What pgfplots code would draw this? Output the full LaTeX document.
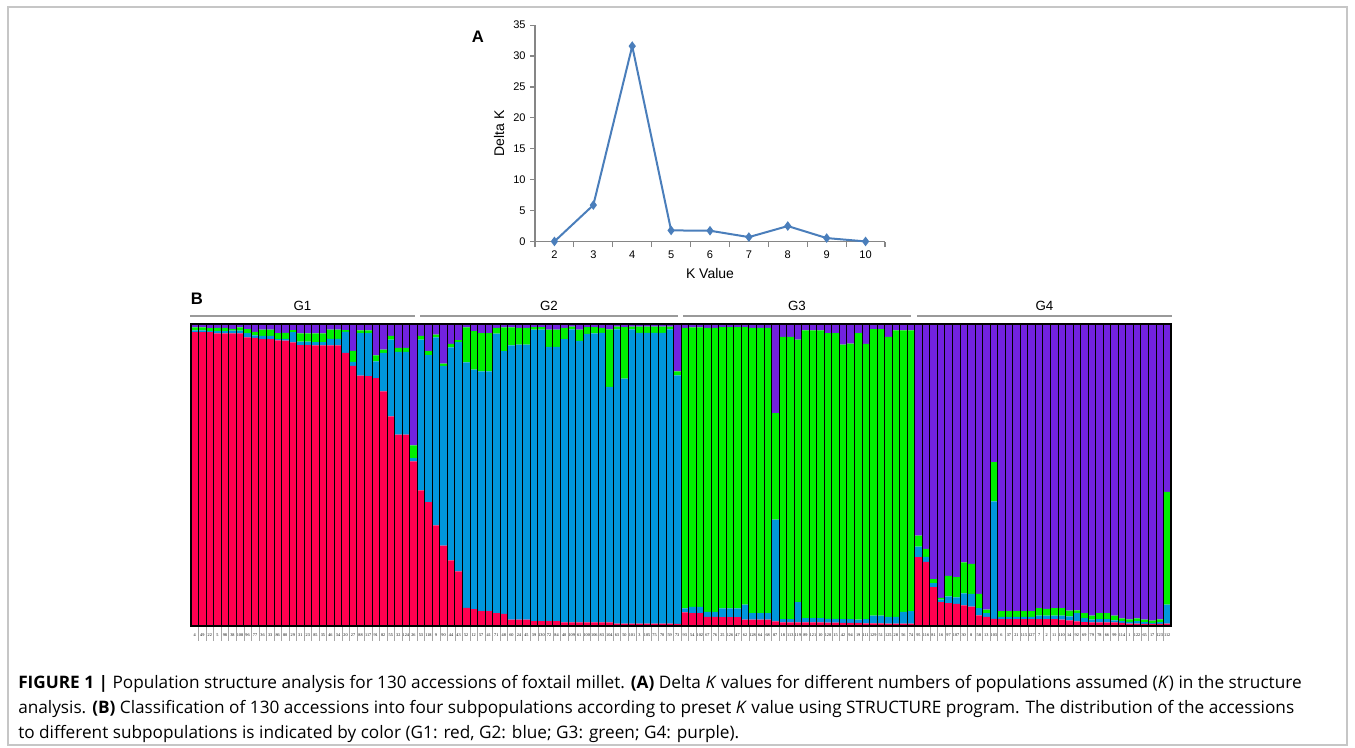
\documentclass[border=0pt]{standalone}
\usepackage{fontspec}
\setmainfont{Liberation Sans}
\newfontfamily\capfont{Open Sans}
\newfontfamily\labfont{Liberation Serif}
\usepackage{pgfplots}
\usepackage{pgfplotstable}
\pgfplotsset{compat=1.18}

\definecolor{strred}{HTML}{FF0050}
\definecolor{strblue}{HTML}{0096DC}
\definecolor{strgreen}{HTML}{00F000}
\definecolor{strpurple}{HTML}{7222DF}
\definecolor{dkline}{HTML}{4A7EBB}
\definecolor{axgray}{HTML}{868686}

% delta K for K = 2..10
\pgfplotstableread{
k dk
2 0.05
3 5.92
4 31.6
5 1.83
6 1.78
7 0.75
8 2.53
9 0.59
10 0.05
}\deltak

% membership per accession: red (G1), blue (G2), green (G3), purple (G4)
\pgfplotstableread{
r b g p lab
0.973 0.006 0.010 0.011 4
0.973 0.006 0.010 0.011 49
0.973 0.004 0.009 0.014 22
0.969 0.007 0.011 0.013 5
0.969 0.007 0.011 0.013 98
0.969 0.009 0.006 0.016 38
0.969 0.009 0.011 0.011 108
0.956 0.014 0.013 0.017 96
0.954 0.008 0.012 0.026 77
0.950 0.011 0.020 0.019 36
0.950 0.011 0.020 0.019 33
0.946 0.004 0.020 0.030 86
0.945 0.006 0.020 0.029 80
0.939 0.034 0.007 0.020 29
0.930 0.012 0.027 0.031 31
0.930 0.012 0.027 0.031 23
0.929 0.011 0.029 0.031 85
0.929 0.011 0.029 0.031 35
0.929 0.022 0.030 0.019 46
0.929 0.022 0.030 0.019 34
0.904 0.070 0.006 0.020 20
0.861 0.014 0.036 0.089 27
0.829 0.141 0.009 0.021 88
0.827 0.143 0.009 0.021 117
0.821 0.055 0.020 0.104 91
0.777 0.127 0.011 0.085 82
0.694 0.254 0.013 0.039 55
0.634 0.274 0.013 0.079 32
0.634 0.274 0.013 0.079 124
0.545 0.011 0.042 0.402 26
0.449 0.499 0.013 0.039 53
0.410 0.487 0.013 0.090 118
0.333 0.623 0.009 0.035 9
0.266 0.595 0.008 0.131 90
0.217 0.706 0.011 0.066 44
0.181 0.759 0.007 0.053 43
0.060 0.813 0.116 0.011 52
0.056 0.793 0.127 0.024 12
0.049 0.794 0.127 0.030 57
0.049 0.794 0.127 0.030 41
0.043 0.925 0.019 0.013 71
0.040 0.870 0.079 0.011 48
0.021 0.908 0.060 0.011 60
0.021 0.911 0.055 0.013 24
0.021 0.911 0.055 0.013 45
0.016 0.965 0.009 0.010 39
0.016 0.965 0.009 0.010 130
0.016 0.908 0.057 0.019 72
0.016 0.908 0.057 0.019 84
0.012 0.938 0.037 0.013 40
0.012 0.970 0.009 0.009 109
0.012 0.932 0.037 0.019 61
0.012 0.955 0.023 0.010 100
0.012 0.957 0.021 0.010 106
0.012 0.959 0.016 0.013 83
0.012 0.780 0.190 0.018 104
0.008 0.974 0.009 0.009 63
0.008 0.811 0.171 0.010 50
0.008 0.974 0.009 0.009 101
0.008 0.963 0.020 0.009 3
0.008 0.963 0.020 0.009 105
0.008 0.963 0.020 0.009 75
0.008 0.963 0.020 0.009 70
0.008 0.974 0.009 0.009 59
0.007 0.823 0.013 0.157 73
0.045 0.013 0.929 0.013 93
0.043 0.020 0.926 0.011 54
0.043 0.020 0.926 0.011 102
0.030 0.017 0.940 0.013 67
0.030 0.017 0.940 0.013 76
0.029 0.029 0.932 0.010 25
0.029 0.029 0.932 0.010 126
0.029 0.029 0.932 0.010 47
0.021 0.050 0.919 0.010 62
0.021 0.022 0.944 0.013 128
0.021 0.022 0.944 0.013 64
0.021 0.022 0.944 0.013 68
0.015 0.337 0.353 0.295 87
0.012 0.011 0.934 0.043 18
0.012 0.011 0.934 0.043 113
0.012 0.067 0.869 0.052 119
0.012 0.014 0.953 0.021 89
0.012 0.014 0.953 0.021 121
0.012 0.014 0.953 0.021 10
0.011 0.013 0.946 0.030 120
0.011 0.013 0.946 0.030 15
0.010 0.013 0.909 0.068 42
0.010 0.013 0.912 0.065 94
0.010 0.011 0.949 0.030 19
0.009 0.014 0.911 0.066 111
0.009 0.025 0.949 0.017 129
0.009 0.025 0.949 0.017 51
0.008 0.022 0.927 0.043 125
0.008 0.022 0.949 0.021 28
0.008 0.039 0.932 0.021 56
0.008 0.041 0.930 0.021 74
0.228 0.035 0.036 0.701 95
0.212 0.017 0.026 0.745 116
0.129 0.013 0.013 0.845 81
0.079 0.008 0.006 0.907 16
0.076 0.022 0.068 0.834 97
0.073 0.022 0.067 0.838 107
0.068 0.040 0.103 0.789 30
0.064 0.042 0.100 0.794 8
0.035 0.024 0.047 0.894 58
0.030 0.013 0.011 0.946 13
0.024 0.389 0.130 0.457 103
0.023 0.007 0.019 0.951 6
0.023 0.007 0.019 0.951 37
0.023 0.007 0.019 0.951 21
0.023 0.007 0.019 0.951 115
0.023 0.007 0.019 0.951 127
0.023 0.011 0.025 0.941 7
0.023 0.011 0.023 0.943 2
0.023 0.011 0.025 0.941 11
0.021 0.013 0.025 0.941 110
0.019 0.013 0.019 0.949 14
0.015 0.028 0.009 0.948 92
0.013 0.013 0.017 0.957 69
0.012 0.009 0.013 0.966 79
0.012 0.011 0.020 0.957 78
0.012 0.011 0.020 0.957 66
0.012 0.007 0.015 0.966 99
0.010 0.006 0.009 0.975 114
0.008 0.006 0.008 0.978 1
0.008 0.008 0.009 0.975 122
0.007 0.006 0.008 0.979 65
0.007 0.003 0.008 0.982 17
0.007 0.006 0.009 0.978 123
0.008 0.063 0.373 0.556 112
}\structdata

\begin{document}
\begin{tikzpicture}
% page frame, in pixel units of the reference (y downwards)
\begin{scope}[x=0.75pt,y=-0.75pt]
\path (0,0) rectangle (1355,748);
\draw[gray!45, line width=0.8pt] (8,7) rectangle (1347,745);
\node[font=\bfseries\fontsize{12.5}{14}\selectfont] at (478,37) {A};
\node[font=\bfseries\fontsize{12.5}{14}\selectfont] at (197,299) {B};
\foreach \xa/\xb/\lab in {190/415/G1,420/678/G2,683/911/G3,917/1172/G4}{
  \draw[gray!80, line width=0.9pt] (\xa,316) -- (\xb,316);
  \node[font=\fontsize{10}{12}\selectfont] at ({(\xa+\xb)/2},306) {\lab};
}
\begin{scope}[font=\capfont\fontsize{12.9}{15}\selectfont]
\node[anchor=base west, inner sep=0pt] at (18,688) {\textbf{FIGURE 1 |} Population structure analysis for 130 accessions of foxtail millet. \textbf{(A)} Delta \textit{K} values for different numbers of populations assumed (\textit{K}) in the structure};
\node[anchor=base west, inner sep=0pt] at (18,713) {analysis. \textbf{(B)} Classification of 130 accessions into four subpopulations according to preset \textit{K} value using STRUCTURE program. The distribution of the accessions};
\node[anchor=base west, inner sep=0pt] at (18,738) {to different subpopulations is indicated by color (G1: red, G2: blue; G3: green; G4: purple).};
\end{scope}
\end{scope}

% panel A
\begin{axis}[
  at={(401.25pt,-181.3pt)}, anchor=south west,
  width=262.5pt, height=162.5pt, scale only axis,
  xmin=1.5, xmax=10.5, ymin=0, ymax=35,
  axis x line*=bottom, axis y line*=left,
  axis line style={axgray, line width=0.8pt},
  xtick={2,...,10}, ytick={0,5,...,35},
  minor xtick={1.5,2.5,...,10.5},
  major x tick style={draw=none},
  tick align=outside, major tick length=3.5pt, minor tick length=4pt,
  tick style={axgray, line width=0.8pt},
  ticklabel style={font=\fontsize{8.3}{9}\selectfont},
  /pgf/number format/assume math mode=true,
  xlabel={K Value}, ylabel={Delta K},
  label style={font=\fontsize{10.5}{12}\selectfont},
  clip=false,
]
\addplot[dkline, line width=1.5pt, mark=diamond*, mark size=2.4pt, mark options={solid, fill=dkline}] table[x=k, y=dk] {\deltak};
\end{axis}

% panel B
\begin{axis}[
  at={(143.25pt,-469.5pt)}, anchor=south west,
  width=735pt, height=226.5pt, scale only axis,
  ybar stacked, bar width=1,
  xmin=-0.5, xmax=129.5, ymin=0, ymax=1,
  axis on top,
  xtick={0,...,129}, xticklabels from table={\structdata}{lab},
  minor x tick num=1, xtick pos=bottom,
  major x tick style={draw=none},
  tick align=outside, major tick length=0pt, minor tick length=11pt,
  minor x tick style={gray!70, line width=0.4pt},
  xminorgrids, minor x grid style={black, line width=0.6pt},
  ytick=\empty,
  x tick label style={font=\labfont\fontsize{3.2}{3.2}\selectfont, inner sep=0.5pt, yshift=-5pt},
  axis line style={black, line width=2.2pt},
]
\addplot[fill=strred, draw=none] table[x expr=\coordindex, y=r] {\structdata};
\addplot[fill=strblue, draw=none] table[x expr=\coordindex, y=b] {\structdata};
\addplot[fill=strgreen, draw=none] table[x expr=\coordindex, y=g] {\structdata};
\addplot[fill=strpurple, draw=none] table[x expr=\coordindex, y=p] {\structdata};
\end{axis}
\end{tikzpicture}
\end{document}
